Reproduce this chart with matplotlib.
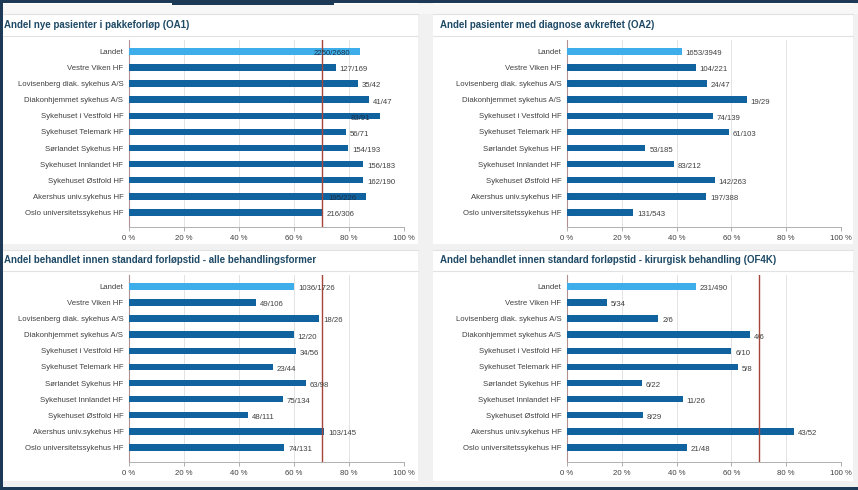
import matplotlib.pyplot as plt
from matplotlib.patches import Rectangle
from matplotlib.lines import Line2D

# hospitals, top to bottom
units = ['Landet', 'Vestre Viken HF', 'Lovisenberg diak. sykehus A/S',
         'Diakonhjemmet sykehus A/S', 'Sykehuset i Vestfold HF',
         'Sykehuset Telemark HF', 'Sørlandet Sykehus HF', 'Sykehuset Innlandet HF',
         'Sykehuset Østfold HF', 'Akershus univ.sykehus HF', 'Oslo universitetssykehus HF']

oa1_num = [2250, 127, 35, 41, 83, 56, 154, 156, 162, 195, 216]
oa1_den = [2680, 169, 42, 47, 91, 71, 193, 183, 190, 226, 306]

oa2_num = [1653, 104, 24, 19, 74, 61, 53, 83, 142, 197, 131]
oa2_den = [3949, 221, 47, 29, 139, 103, 185, 212, 263, 388, 543]

alle_num = [1036, 49, 18, 12, 34, 23, 63, 75, 48, 103, 74]
alle_den = [1726, 106, 26, 20, 56, 44, 98, 134, 111, 145, 131]

kir_num = [231, 5, 2, 4, 6, 5, 6, 11, 8, 43, 21]
kir_den = [490, 34, 6, 6, 10, 8, 22, 26, 29, 52, 48]

titles = ['Andel nye pasienter i pakkeforløp (OA1)',
          'Andel pasienter med diagnose avkreftet (OA2)',
          'Andel behandlet innen standard forløpstid - alle behandlingsformer',
          'Andel behandlet innen standard forløpstid - kirurgisk behandling (OF4K)']
targets = [0.70, None, 0.70, 0.70]
xticks = [0, 0.2, 0.4, 0.6, 0.8, 1.0]
xtick_labels = ['0 %', '20 %', '40 %', '60 %', '80 %', '100 %']

W, H = 858, 490
DARK = '#10639f'
LIGHT = '#3daeea'
NAVY = '#1c3a56'
TITLE_C = '#1f4a66'
TXT = '#404040'
FONT = 'Liberation Sans'


def rect(x0, y0, x1, y1):
    # pixel box (top-left origin) -> figure fraction
    return [x0 / W, 1 - y1 / H, (x1 - x0) / W, (y1 - y0) / H]


fig = plt.figure(figsize=(W / 100, H / 100), dpi=100, facecolor='white')

# background strips and frame
bg = fig.add_axes([0, 0, 1, 1])
bg.set_xlim(0, W)
bg.set_ylim(H, 0)
bg.axis('off')
bg.add_patch(Rectangle((418, 0), 15, H, color='#f1f1f1', lw=0))
bg.add_patch(Rectangle((853, 0), 5, H, color='#f1f1f1', lw=0))
bg.add_patch(Rectangle((0, 244), W, 6, color='#f1f1f1', lw=0))
bg.add_patch(Rectangle((0, 4), W, 10, color='#f7f7f7', lw=0))
bg.add_patch(Rectangle((0, 481), W, 6, color='#f1f1f1', lw=0))
for y in [14, 36, 250, 271]:
    bg.add_line(Line2D([3, 418], [y, y], color='#e2e2e2', lw=0.8))
    bg.add_line(Line2D([433, 853], [y, y], color='#e2e2e2', lw=0.8))
bg.add_patch(Rectangle((0, 0), W, 3, color=NAVY, lw=0))
bg.add_patch(Rectangle((172, 0), 162, 5, color=NAVY, lw=0))
bg.add_patch(Rectangle((0, 0), 2.5, H, color=NAVY, lw=0))
bg.add_patch(Rectangle((0, 487), W, 3, color=NAVY, lw=0))

panels = [
    (oa1_num, oa1_den, (129, 40, 404, 227), (4, 25)),
    (oa2_num, oa2_den, (567, 40, 841, 227), (440, 25)),
    (alle_num, alle_den, (129, 275, 404, 462), (4, 260)),
    (kir_num, kir_den, (567, 275, 841, 462), (440, 260)),
]

for i, (num, den, box, tpos) in enumerate(panels):
    bg.text(tpos[0], tpos[1], titles[i], color=TITLE_C, fontsize=7.0,
            fontweight='bold', family=FONT, va='center', ha='left')

    ax = fig.add_axes(rect(*box))
    ax.set_facecolor('none')
    shares = [n / d for n, d in zip(num, den)]
    ypos = list(range(len(units)))
    colors = [LIGHT] + [DARK] * (len(units) - 1)
    ax.barh(ypos, shares, height=0.4, color=colors, zorder=3)

    for y, s, n, d in zip(ypos, shares, num, den):
        lab = f'{n}/{d}'
        if s + 0.0185 * len(lab) + 0.01 > 1.0:
            ax.text(s - 0.035, y + 0.15, lab, ha='right', va='center',
                    fontsize=5.6, color='#1d2f45', family=FONT, zorder=5)
        else:
            ax.text(s + 0.014, y + 0.15, lab, ha='left', va='center',
                    fontsize=5.6, color=TXT, family=FONT, zorder=5)

    if targets[i] is not None:
        ax.axvline(targets[i], color='#a5463a', lw=1.0, zorder=4)

    ax.set_xlim(0, 1.0)
    ax.set_ylim(10.9, -0.7)
    ax.set_yticks(ypos)
    ax.set_yticklabels(units, fontsize=5.6, color=TXT, family=FONT)
    ax.set_xticks(xticks)
    ax.set_xticklabels(xtick_labels, fontsize=5.6, color=TXT, family=FONT)
    ax.tick_params(axis='y', length=0, pad=4)
    ax.tick_params(axis='x', length=3, width=0.6, color='#a0a0a0', pad=3)
    ax.grid(axis='x', color='#e3e3e3', lw=0.7, zorder=0)
    for side in ['top', 'right']:
        ax.spines[side].set_visible(False)
    ax.spines['left'].set_color('#b09090')
    ax.spines['left'].set_linewidth(0.8)
    ax.spines['bottom'].set_color('#b0b0b0')
    ax.spines['bottom'].set_linewidth(0.7)

fig.savefig('out.png', dpi=100, facecolor=fig.get_facecolor())
